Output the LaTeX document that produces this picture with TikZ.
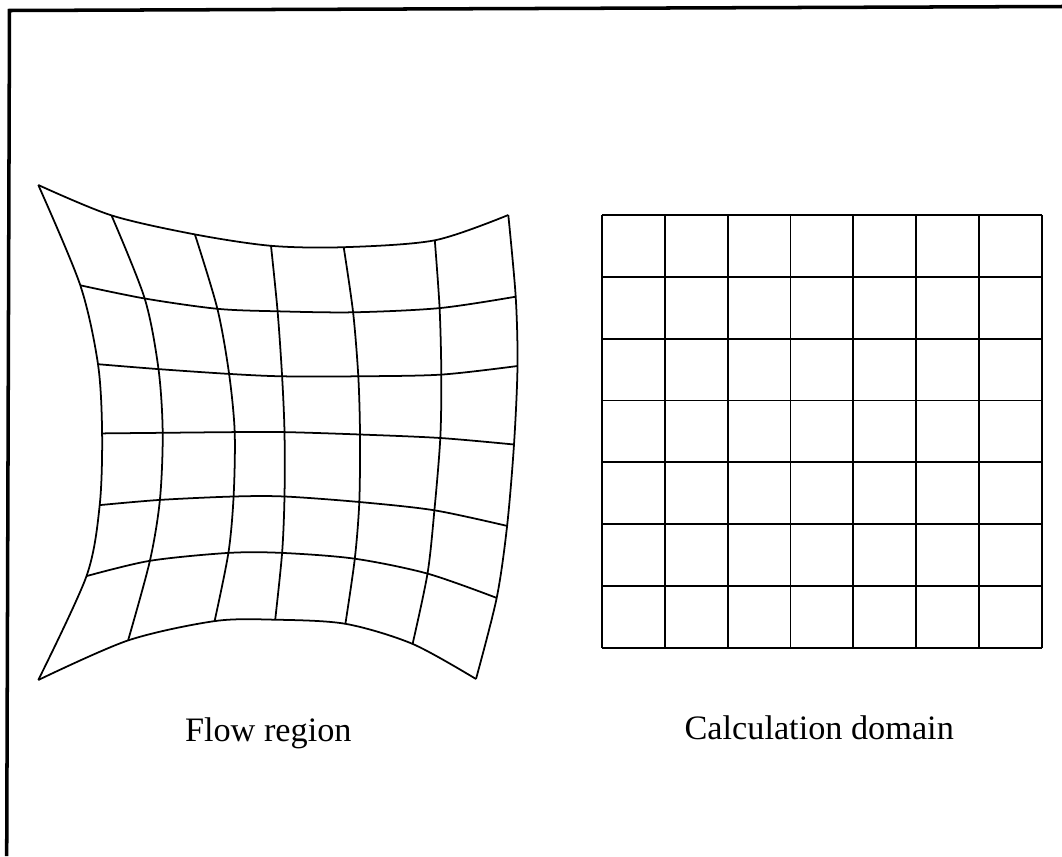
\documentclass[tikz,border=0pt]{standalone}
\usepackage{fontspec}
\setmainfont{Liberation Serif}

\begin{document}
\begin{tikzpicture}[x=0.02cm,y=-0.02cm]
    \tikzset{frameline/.style={line width=2pt,line join=miter},
      meshline/.style={line width=1pt},
      caption/.style={font=\fontsize{19.5}{23}\selectfont,anchor=base,inner sep=0pt}}
    \useasboundingbox (0,0) rectangle (1062,856);
    \draw[frameline] (6.7,856) -- (9.5,10.5) -- (1062,6.5);
    % flow region: mesh points, one row per entry
    \foreach \row [count=\j from 0] in {
        {38.3/185, 111.5/215.4, 194.9/234.4, 271.0/245.8, 343.7/247.2, 434.8/240.3, 508.3/215},
        {80.3/285.3, 144.7/298.5, 217.4/308.8, 277.6/311.3, 353.1/312.3, 439.6/308.1, 515.7/296.7},
        {98.0/364.2, 158.5/369.1, 229.1/373.9, 282.1/376.3, 358.3/376.3, 441.3/374.6, 517.5/366.0},
        {102.1/433.4, 162.7/432.8, 234.7/432.1, 284.5/432.1, 360.0/434.5, 440.3/438.0, 514.0/444.5},
        {99.7/505.1, 159.9/499.9, 233.6/496.5, 284.5/496.5, 359.3/502.0, 434.4/510.3, 507.1/525.9},
        {86.5/576.1, 149.9/560.8, 228.4/552.9, 282.1/552.9, 354.8/558.7, 427.5/573.6, 496.7/597.9},
        {38.3/680, 128.1/640.4, 214.6/621.1, 275.2/619.7, 345.4/623.8, 412.6/643.9, 476/679}}{
      \foreach \x/\y [count=\i from 0] in \row
        \coordinate (p-\i-\j) at (\x,\y);
    }
    \foreach \k in {0,...,6} {
      \draw[meshline] plot[smooth] coordinates {(p-0-\k) (p-1-\k) (p-2-\k) (p-3-\k) (p-4-\k) (p-5-\k) (p-6-\k)};
      \draw[meshline] plot[smooth] coordinates {(p-\k-0) (p-\k-1) (p-\k-2) (p-\k-3) (p-\k-4) (p-\k-5) (p-\k-6)};
    }
    % calculation domain: 7 x 7 cells
    \foreach \k in {0,...,7} {
      \draw[meshline] (602+62.81*\k,215) -- (602+62.81*\k,647.7);
      \draw[meshline] (602,215+61.81*\k) -- (1041.7,215+61.81*\k);
    }
    \node[caption] (flowcap) at (268.3,741.7) {Flow region};
    \node[caption] (calccap) at (819.2,739.3) {Calculation domain};
  \end{tikzpicture}
\end{document}
